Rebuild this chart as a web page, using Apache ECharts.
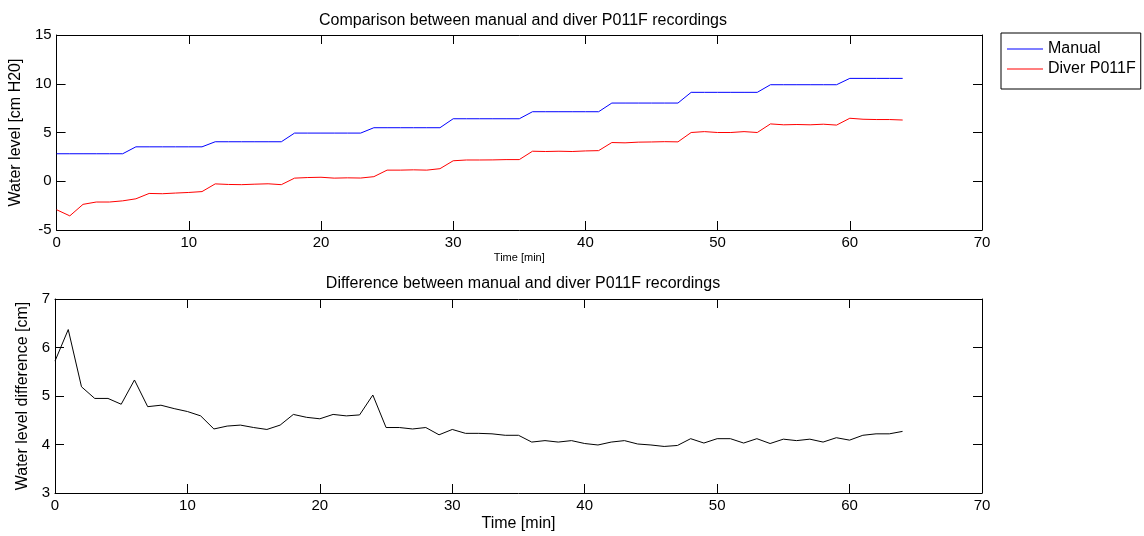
<!DOCTYPE html>
<html>
<head>
<meta charset="utf-8">
<script src="https://cdn.jsdelivr.net/npm/echarts@6/dist/echarts.min.js"></script>
<style>
html,body{margin:0;padding:0;background:#fff;}
#chart{width:1144px;height:536px;}
</style>
</head>
<body>
<div id="chart"></div>
<script>
// Time in minutes (samples every minute)
var timeMin = [0,1,2,3,4,5,6,7,8,9,10,11,12,13,14,15,16,17,18,19,20,21,22,23,24,25,26,27,28,29,30,31,32,33,34,35,36,37,38,39,40,41,42,43,44,45,46,47,48,49,50,51,52,53,54,55,56,57,58,59,60,61,62,63,64];
// Manual recordings [cm H20]
var manual = [2.82,2.82,2.82,2.82,2.82,2.82,3.53,3.53,3.53,3.53,3.53,3.53,4.05,4.05,4.05,4.05,4.05,4.05,4.94,4.94,4.94,4.94,4.94,4.94,5.49,5.49,5.49,5.49,5.49,5.49,6.41,6.41,6.41,6.41,6.41,6.41,7.13,7.13,7.13,7.13,7.13,7.13,8.02,8.02,8.02,8.02,8.02,8.02,9.12,9.12,9.12,9.12,9.12,9.12,9.90,9.90,9.90,9.90,9.90,9.90,10.55,10.55,10.55,10.55,10.55];
// Diver P011F recordings [cm H20]
var diver = [-2.92,-3.55,-2.37,-2.13,-2.13,-2.01,-1.80,-1.25,-1.28,-1.21,-1.15,-1.06,-0.27,-0.33,-0.35,-0.30,-0.26,-0.35,0.32,0.38,0.41,0.32,0.35,0.33,0.47,1.14,1.14,1.17,1.14,1.29,2.10,2.18,2.18,2.19,2.22,2.22,3.08,3.05,3.08,3.05,3.11,3.14,3.97,3.94,4.01,4.03,4.06,4.04,5.00,5.09,5.00,5.00,5.09,5.00,5.88,5.79,5.82,5.79,5.85,5.76,6.46,6.36,6.33,6.33,6.28];
// Difference manual - diver [cm]
var difference = [5.72,6.37,5.19,4.95,4.95,4.83,5.33,4.78,4.81,4.74,4.68,4.59,4.32,4.38,4.40,4.35,4.31,4.40,4.62,4.56,4.53,4.62,4.59,4.61,5.02,4.35,4.35,4.32,4.35,4.20,4.31,4.23,4.23,4.22,4.19,4.19,4.05,4.08,4.05,4.08,4.02,3.99,4.05,4.08,4.01,3.99,3.96,3.98,4.12,4.03,4.12,4.12,4.03,4.12,4.02,4.11,4.08,4.11,4.05,4.14,4.09,4.19,4.22,4.22,4.27];
// Tick settings
var xTicks = {min:0, max:70, interval:10};
var yTopTicks = {min:-5, max:15, interval:5};
var yBotTicks = {min:3, max:7, interval:1};

function pairs(xs, ys){ return xs.map(function(x,i){ return [x, ys[i]]; }); }

var FONT = '"Liberation Sans", Arial, Helvetica, sans-serif';
var axisLine = {show:true, onZero:false, lineStyle:{color:'#000', width:1}};

function mainAxis(ticks, extra){
  var a = {
    type:'value', min:ticks.min, max:ticks.max, interval:ticks.interval,
    axisLine:axisLine,
    axisTick:{show:true, inside:true, length:9, lineStyle:{color:'#000', width:1}},
    axisLabel:{show:true, color:'#000', fontFamily:FONT, fontSize:15, margin:5},
    splitLine:{show:false}
  };
  for (var k in extra) a[k] = extra[k];
  return a;
}
function mirrorAxis(ticks, extra){
  var a = {
    type:'value', min:ticks.min, max:ticks.max, interval:ticks.interval,
    axisLine:axisLine,
    axisTick:{show:true, inside:true, length:9, lineStyle:{color:'#000', width:1}},
    axisLabel:{show:false},
    splitLine:{show:false}
  };
  for (var k in extra) a[k] = extra[k];
  return a;
}

var chart = echarts.init(document.getElementById('chart'), null, {renderer:'canvas'});
chart.setOption({
  backgroundColor:'#fff',
  animation:false,
  title:[
    {text:'Comparison between manual and diver P011F recordings', left:518, top:8, textAlign:'center',
     textStyle:{fontFamily:FONT, fontSize:16, fontWeight:'normal', color:'#000'}},
    {text:'Difference between manual and diver P011F recordings', left:518, top:271, textAlign:'center',
     textStyle:{fontFamily:FONT, fontSize:16, fontWeight:'normal', color:'#000'}}
  ],
  legend:{
    orient:'vertical', left:1001, top:33,
    data:['Manual','Diver P011F'],
    icon:'rect', itemWidth:36, itemHeight:1, itemGap:2,
    borderColor:'#000', borderWidth:1, borderRadius:0,
    padding:[7,5,11,6],
    textStyle:{fontFamily:FONT, fontSize:16, color:'#000', lineHeight:18, padding:[0,0,0,0]}
  },
  grid:[
    {left:54, top:35, width:928, height:195, containLabel:false},
    {left:55, top:299, width:927, height:194, containLabel:false}
  ],
  xAxis:[
    mainAxis(xTicks, {gridIndex:0, position:'bottom', name:'Time [min]', nameLocation:'middle', nameGap:22,
      nameTextStyle:{fontFamily:FONT, fontSize:11, color:'#000'}}),
    mirrorAxis(xTicks, {gridIndex:0, position:'top'}),
    mainAxis(xTicks, {gridIndex:1, position:'bottom', name:'Time [min]', nameLocation:'middle', nameGap:23,
      nameTextStyle:{fontFamily:FONT, fontSize:16, color:'#000'}}),
    mirrorAxis(xTicks, {gridIndex:1, position:'top'})
  ],
  yAxis:[
    mainAxis(yTopTicks, {gridIndex:0, position:'left', name:'Water level [cm H20]', nameLocation:'middle', nameGap:29,
      nameTextStyle:{fontFamily:FONT, fontSize:16, color:'#000'}}),
    mirrorAxis(yTopTicks, {gridIndex:0, position:'right'}),
    mainAxis(yBotTicks, {gridIndex:1, position:'left', name:'Water level difference [cm]', nameLocation:'middle', nameGap:20,
      nameTextStyle:{fontFamily:FONT, fontSize:16, color:'#000'}}),
    mirrorAxis(yBotTicks, {gridIndex:1, position:'right'})
  ],
  series:[
    {name:'Manual', type:'line', xAxisIndex:0, yAxisIndex:0, data:pairs(timeMin, manual),
     symbol:'none', lineStyle:{color:'#0000ff', width:1}, itemStyle:{color:'#0000ff'}},
    {name:'Diver P011F', type:'line', xAxisIndex:0, yAxisIndex:0, data:pairs(timeMin, diver),
     symbol:'none', lineStyle:{color:'#ff0000', width:1}, itemStyle:{color:'#ff0000'}},
    {name:'Difference', type:'line', xAxisIndex:2, yAxisIndex:2, data:pairs(timeMin, difference),
     symbol:'none', lineStyle:{color:'#000000', width:1}, itemStyle:{color:'#000'}}
  ]
});
</script>
</body>
</html>
